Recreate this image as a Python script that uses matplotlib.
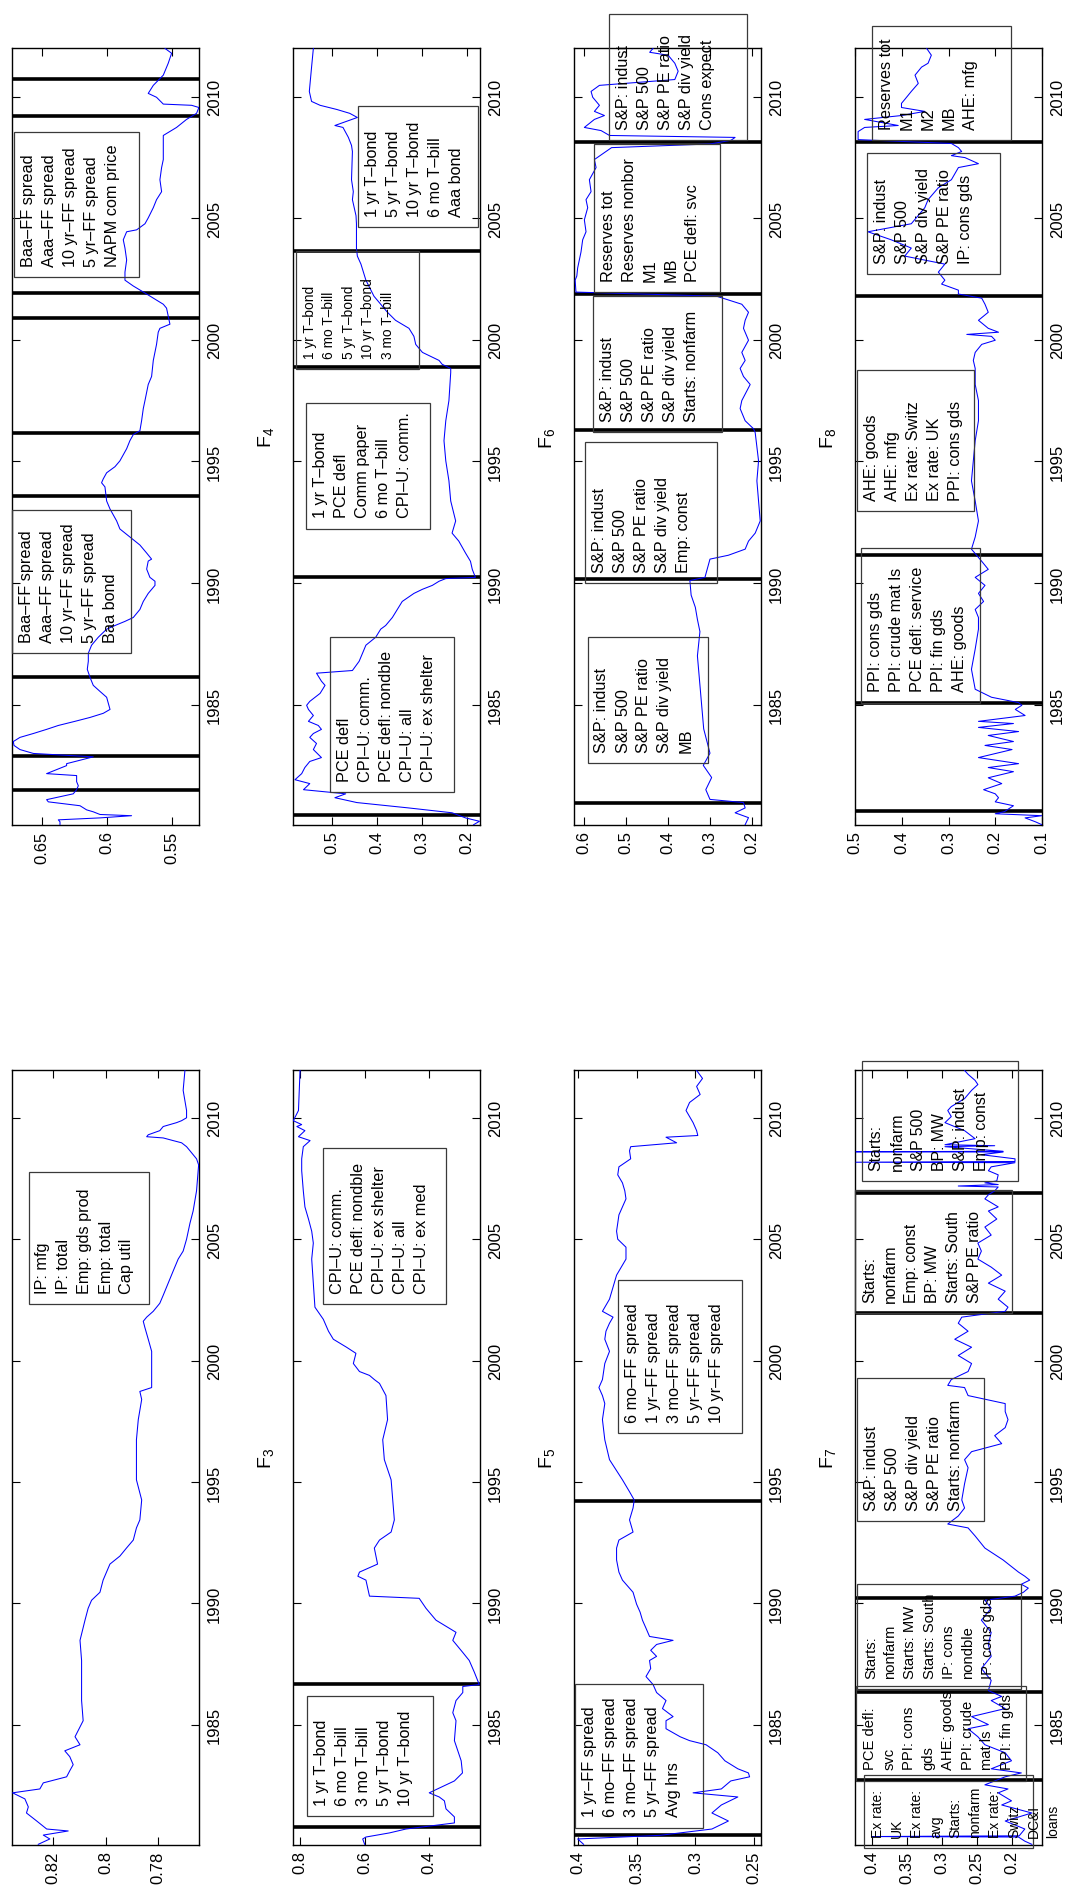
import matplotlib
matplotlib.use('Agg')
import matplotlib.pyplot as plt
from matplotlib.patches import Rectangle

plt.rcParams['font.family'] = ['Liberation Sans', 'DejaVu Sans']
plt.rcParams['mathtext.fontset'] = 'custom'
plt.rcParams['mathtext.rm'] = 'Liberation Sans'
plt.rcParams['mathtext.it'] = 'Liberation Sans'

W, H = 1067, 1890
fig = plt.figure(figsize=(W / 100, H / 100), dpi=100)

# ---------------- data (year, value) ----------------
t_f1 = [1980.08, 1980.30, 1980.46, 1980.63, 1980.71, 1981.04, 1981.37, 1981.62, 1981.95, 1982.20, 1982.36,
        1982.61, 1982.86, 1983.11, 1983.36, 1983.69, 1983.93, 1984.18, 1984.51, 1985.17, 1986.00, 1986.83,
        1987.65, 1988.48, 1989.31, 1989.80, 1990.13, 1990.46, 1990.96, 1991.29, 1991.62, 1991.95, 1992.28,
        1992.61, 1993.11, 1993.44, 1994.26, 1995.09, 1995.92, 1996.74, 1997.57, 1998.40, 1998.73, 1998.89,
        1999.22, 2000.05, 2000.38, 2000.88, 2001.37, 2001.62, 2001.79, 2002.03, 2002.36, 2002.69, 2003.19,
        2003.69, 2004.18, 2004.51, 2005.00, 2005.66, 2006.16, 2006.99, 2008.06, 2008.31, 2008.64, 2008.81,
        2008.97, 2009.06, 2009.17, 2009.22, 2009.30, 2009.47, 2009.64, 2009.80, 2009.88, 2010.00, 2010.30,
        2011.13, 2011.98]
v_f1 = [0.8257, 0.8213, 0.8238, 0.8143, 0.8225, 0.8263, 0.8302, 0.8295, 0.8308, 0.8355, 0.8251,
        0.8238, 0.8149, 0.8137, 0.8124, 0.8137, 0.8156, 0.8098, 0.8117, 0.8086, 0.8092, 0.8092,
        0.8092, 0.8098, 0.8079, 0.8067, 0.8054, 0.8022, 0.8010, 0.7997, 0.7984, 0.7946, 0.7921,
        0.7895, 0.7883, 0.7870, 0.7863, 0.7883, 0.7883, 0.7883, 0.7876, 0.7863, 0.7870, 0.7825,
        0.7825, 0.7825, 0.7825, 0.7838, 0.7851, 0.7857, 0.7844, 0.7819, 0.7794, 0.7781, 0.7762,
        0.7743, 0.7724, 0.7705, 0.7692, 0.7679, 0.7667, 0.7654, 0.7646, 0.7654, 0.7679, 0.7692,
        0.7711, 0.7743, 0.7781, 0.7844, 0.7838, 0.7794, 0.7781, 0.7730, 0.7711, 0.7692, 0.7692,
        0.7705, 0.7698]

t_f2 = [1980.06, 1980.18, 1980.26, 1980.34, 1980.43, 1980.48, 1980.59, 1980.67, 1980.84, 1981.00, 1981.09,
        1981.33, 1981.50, 1981.66, 1981.83, 1982.08, 1982.16, 1982.49, 1982.57, 1982.85, 1982.99, 1983.15,
        1983.32, 1983.48, 1983.65, 1983.81, 1983.98, 1984.14, 1984.31, 1984.47, 1984.64, 1984.80, 1985.05,
        1985.30, 1985.54, 1985.79, 1986.12, 1986.45, 1986.78, 1987.11, 1987.44, 1987.77, 1988.10, 1988.25,
        1988.42, 1988.58, 1988.91, 1989.24, 1989.57, 1989.90, 1990.07, 1990.23, 1990.57, 1990.90, 1990.98,
        1991.23, 1991.56, 1991.89, 1992.22, 1992.55, 1993.04, 1993.37, 1993.95, 1994.12, 1994.28, 1994.53,
        1994.78, 1995.02, 1995.52, 1995.85, 1996.10, 1996.26, 1996.67, 1997.17, 1997.50, 1998.16, 1998.49,
        1999.15, 1999.81, 2000.31, 2000.47, 2000.64, 2000.97, 2001.30, 2001.46, 2001.63, 2001.88, 2002.21,
        2002.45, 2002.78, 2003.28, 2003.77, 2004.11, 2004.44, 2004.52, 2004.77, 2005.01, 2005.43, 2005.76,
        2006.09, 2006.58, 2007.08, 2007.41, 2008.07, 2008.40, 2008.73, 2009.06, 2009.31, 2009.55, 2009.64,
        2009.69, 2009.97, 2010.13, 2010.46, 2010.88, 2011.37, 2011.78, 2011.98]
v_f2 = [0.6364, 0.6364, 0.6377, 0.6056, 0.5813, 0.6056, 0.6108, 0.6159, 0.6210, 0.6454, 0.6467,
        0.6262, 0.6236, 0.6223, 0.6236, 0.6236, 0.6467, 0.6313, 0.6313, 0.6108, 0.6569, 0.6672,
        0.6718, 0.6723, 0.6672, 0.6569, 0.6467, 0.6377, 0.6249, 0.6133, 0.6031, 0.5979, 0.5992,
        0.6005, 0.6056, 0.6108, 0.6133, 0.6154, 0.6146, 0.6146, 0.6121, 0.6069, 0.6005, 0.5941,
        0.5864, 0.5800, 0.5749, 0.5723, 0.5685, 0.5633, 0.5633, 0.5672, 0.5697, 0.5685, 0.5659,
        0.5697, 0.5749, 0.5826, 0.5903, 0.5928, 0.5979, 0.6005, 0.6018, 0.6044, 0.6031, 0.6005,
        0.5941, 0.5903, 0.5851, 0.5826, 0.5800, 0.5749, 0.5736, 0.5723, 0.5710, 0.5685, 0.5659,
        0.5646, 0.5621, 0.5608, 0.5595, 0.5518, 0.5531, 0.5544, 0.5569, 0.5621, 0.5697, 0.5800,
        0.5864, 0.5864, 0.5851, 0.5864, 0.5877, 0.5851, 0.5774, 0.5710, 0.5685, 0.5646, 0.5621,
        0.5582, 0.5595, 0.5582, 0.5569, 0.5569, 0.5569, 0.5467, 0.5390, 0.5313, 0.5295, 0.5351,
        0.5569, 0.5621, 0.5685, 0.5646, 0.5569, 0.5531, 0.5505, 0.5556]

t_f3 = [1980.08, 1980.30, 1980.38, 1980.55, 1980.71, 1980.96, 1981.21, 1981.54, 1981.87, 1982.03, 1982.20,
        1982.69, 1983.02, 1983.52, 1984.35, 1985.17, 1985.50, 1986.00, 1986.33, 1986.58, 1986.66, 1987.16,
        1987.65, 1987.98, 1988.48, 1988.81, 1989.31, 1989.80, 1990.21, 1990.30, 1990.96, 1991.12, 1991.29,
        1991.62, 1992.28, 1992.61, 1992.94, 1993.44, 1994.26, 1995.09, 1995.92, 1996.74, 1997.57, 1998.56,
        1999.06, 1999.22, 1999.39, 1999.55, 1999.88, 2000.30, 2000.55, 2000.88, 2001.21, 2001.70, 2002.20,
        2004.18, 2004.84, 2005.33, 2005.83, 2006.33, 2006.99, 2007.82, 2008.31, 2008.81, 2009.06, 2009.22,
        2009.47, 2009.64, 2009.72, 2009.88, 2010.30, 2011.98]
v_f3 = [0.600, 0.606, 0.596, 0.523, 0.472, 0.322, 0.322, 0.348, 0.353, 0.369, 0.400,
        0.322, 0.297, 0.301, 0.322, 0.317, 0.327, 0.317, 0.296, 0.296, 0.245, 0.260,
        0.276, 0.296, 0.327, 0.317, 0.379, 0.410, 0.431, 0.585, 0.596, 0.621, 0.616,
        0.560, 0.570, 0.554, 0.518, 0.508, 0.513, 0.518, 0.539, 0.544, 0.529, 0.534,
        0.554, 0.570, 0.585, 0.616, 0.635, 0.627, 0.656, 0.697, 0.712, 0.728, 0.754,
        0.764, 0.759, 0.764, 0.774, 0.785, 0.790, 0.795, 0.795, 0.790, 0.769, 0.805,
        0.785, 0.810, 0.795, 0.821, 0.805, 0.800]

t_f4 = [1980.06, 1980.20, 1980.34, 1980.55, 1980.75, 1980.97, 1981.17, 1981.33, 1981.50, 1981.75, 1981.91,
        1982.16, 1982.41, 1982.66, 1982.82, 1983.15, 1983.40, 1983.65, 1983.81, 1983.98, 1984.14, 1984.31,
        1984.55, 1984.80, 1984.97, 1985.13, 1985.46, 1985.79, 1985.96, 1986.29, 1986.40, 1986.78, 1987.44,
        1987.77, 1988.10, 1988.25, 1988.58, 1988.91, 1989.24, 1989.57, 1989.74, 1989.90, 1990.07, 1990.18,
        1990.23, 1990.56, 1990.89, 1991.23, 1991.72, 1992.05, 1992.55, 1993.37, 1994.20, 1995.02, 1995.85,
        1996.67, 1997.50, 1998.66, 1998.82, 1998.99, 1999.15, 1999.48, 1999.81, 2000.14, 2000.47, 2000.80,
        2001.13, 2001.46, 2001.79, 2002.45, 2003.11, 2003.44, 2003.77, 2004.77, 2005.10, 2005.76, 2006.09,
        2006.58, 2007.74, 2007.99, 2008.32, 2008.73, 2008.81, 2009.14, 2009.31, 2009.47, 2009.64, 2009.80,
        2010.21, 2011.21, 2011.98]
v_f4 = [0.185, 0.172, 0.203, 0.233, 0.330, 0.445, 0.494, 0.470, 0.564, 0.550, 0.583,
        0.568, 0.561, 0.550, 0.524, 0.542, 0.535, 0.550, 0.542, 0.524, 0.531, 0.553,
        0.542, 0.553, 0.557, 0.550, 0.527, 0.516, 0.524, 0.535, 0.455, 0.440, 0.425,
        0.403, 0.392, 0.381, 0.366, 0.355, 0.344, 0.318, 0.299, 0.277, 0.262, 0.247,
        0.181, 0.188, 0.192, 0.203, 0.218, 0.233, 0.225, 0.236, 0.240, 0.247, 0.251,
        0.247, 0.240, 0.236, 0.236, 0.255, 0.262, 0.299, 0.314, 0.318, 0.329, 0.359,
        0.377, 0.392, 0.407, 0.425, 0.436, 0.444, 0.446, 0.446, 0.447, 0.455, 0.453,
        0.457, 0.455, 0.457, 0.464, 0.476, 0.494, 0.444, 0.461, 0.490, 0.527, 0.546,
        0.551, 0.546, 0.542]

t_f5 = [1980.08, 1980.30, 1980.45, 1980.71, 1981.04, 1981.37, 1981.70, 1982.03, 1982.20, 1982.36, 1982.69,
        1982.86, 1983.02, 1983.19, 1983.52, 1983.85, 1984.18, 1984.35, 1984.51, 1984.84, 1985.17, 1985.34,
        1985.67, 1986.00, 1986.33, 1986.66, 1986.99, 1987.32, 1987.65, 1987.82, 1988.07, 1988.31, 1988.48,
        1988.64, 1988.98, 1989.31, 1989.64, 1989.97, 1990.46, 1990.96, 1991.29, 1991.79, 1992.28, 1992.61,
        1992.94, 1993.44, 1993.93, 1994.26, 1994.60, 1995.09, 1995.92, 1996.74, 1997.57, 1998.23, 1998.56,
        1998.89, 1999.22, 1999.88, 2000.38, 2000.88, 2001.21, 2001.54, 2001.79, 2002.03, 2002.53, 2003.52,
        2004.18, 2004.67, 2005.00, 2005.33, 2005.66, 2006.00, 2006.33, 2006.66, 2006.99, 2007.32, 2007.65,
        2007.98, 2008.31, 2008.64, 2008.81, 2008.97, 2009.20, 2009.27, 2009.47, 2009.80, 2010.05, 2010.30,
        2010.63, 2010.96, 2011.29, 2011.62, 2011.95]
v_f5 = [0.395, 0.400, 0.330, 0.286, 0.272, 0.286, 0.278, 0.264, 0.302, 0.278, 0.270,
        0.254, 0.255, 0.264, 0.275, 0.281, 0.291, 0.305, 0.313, 0.325, 0.325, 0.319,
        0.328, 0.325, 0.333, 0.336, 0.342, 0.338, 0.339, 0.333, 0.338, 0.333, 0.319,
        0.339, 0.342, 0.345, 0.347, 0.350, 0.353, 0.362, 0.365, 0.367, 0.367, 0.365,
        0.353, 0.356, 0.353, 0.352, 0.356, 0.362, 0.373, 0.377, 0.379, 0.377, 0.379,
        0.382, 0.379, 0.377, 0.373, 0.377, 0.376, 0.373, 0.370, 0.379, 0.373, 0.367,
        0.359, 0.359, 0.366, 0.367, 0.366, 0.365, 0.362, 0.359, 0.360, 0.362, 0.366,
        0.365, 0.355, 0.356, 0.355, 0.316, 0.325, 0.298, 0.299, 0.302, 0.305, 0.308,
        0.305, 0.296, 0.299, 0.294, 0.299]

t_f6 = [1980.06, 1980.35, 1980.55, 1980.75, 1980.97, 1981.10, 1981.50, 1982.00, 1982.50, 1983.00, 1984.00,
        1985.00, 1986.00, 1987.00, 1988.00, 1988.50, 1989.00, 1989.50, 1990.10, 1990.23, 1990.98, 1991.14,
        1991.39, 1991.72, 1992.05, 1992.55, 1993.37, 1994.20, 1995.02, 1996.18, 1996.34, 1996.67, 1997.17,
        1997.50, 1998.16, 1998.49, 1998.82, 1999.15, 1999.48, 1999.98, 2000.47, 2000.80, 2001.13, 2001.46,
        2001.79, 2001.96, 2002.45, 2002.62, 2002.95, 2003.28, 2003.61, 2004.11, 2004.44, 2004.93, 2005.43,
        2005.76, 2006.09, 2006.58, 2007.08, 2007.41, 2007.90, 2008.05, 2008.20, 2008.32, 2008.40, 2008.60,
        2008.73, 2009.06, 2009.22, 2009.39, 2009.64, 2009.97, 2010.21, 2010.46, 2010.70, 2011.04, 2011.37,
        2011.70, 2011.82, 2011.98]
v_f6 = [0.216, 0.208, 0.240, 0.216, 0.220, 0.300, 0.310, 0.296, 0.316, 0.300, 0.315,
        0.320, 0.325, 0.330, 0.324, 0.330, 0.335, 0.345, 0.348, 0.312, 0.300, 0.256,
        0.216, 0.208, 0.192, 0.180, 0.184, 0.188, 0.184, 0.192, 0.196, 0.216, 0.228,
        0.224, 0.204, 0.220, 0.228, 0.216, 0.224, 0.208, 0.220, 0.216, 0.208, 0.224,
        0.284, 0.620, 0.622, 0.618, 0.616, 0.612, 0.608, 0.604, 0.596, 0.600, 0.592,
        0.596, 0.584, 0.588, 0.572, 0.576, 0.535, 0.300, 0.250, 0.240, 0.540, 0.560,
        0.600, 0.576, 0.552, 0.576, 0.564, 0.580, 0.584, 0.564, 0.384, 0.376, 0.384,
        0.400, 0.444, 0.436]

t_f7 = [1980.08, 1980.21, 1980.38, 1980.40, 1980.43, 1980.71, 1981.04, 1981.37, 1981.70, 1981.87, 1982.20,
        1982.36, 1982.53, 1982.69, 1982.86, 1983.02, 1983.19, 1983.52, 1983.85, 1984.18, 1984.51, 1984.84,
        1985.01, 1985.34, 1985.67, 1986.00, 1986.17, 1986.41, 1986.83, 1987.32, 1987.82, 1988.31, 1988.81,
        1989.31, 1989.80, 1990.13, 1990.30, 1990.46, 1990.63, 1990.79, 1990.96, 1991.12, 1991.29, 1991.79,
        1992.28, 1992.78, 1993.11, 1993.27, 1993.60, 1993.93, 1994.26, 1994.93, 1995.59, 1995.92, 1996.25,
        1996.58, 1996.91, 1997.24, 1997.57, 1997.90, 1998.23, 1998.56, 1998.89, 1998.98, 1999.22, 1999.55,
        1999.88, 2000.21, 2000.55, 2000.88, 2001.21, 2001.54, 2001.79, 2002.03, 2002.20, 2002.53, 2002.86,
        2003.19, 2003.52, 2003.85, 2004.18, 2004.51, 2004.84, 2005.17, 2005.50, 2005.83, 2006.16, 2006.33,
        2006.66, 2006.83, 2006.99, 2007.15, 2007.19, 2007.25, 2007.32, 2007.40, 2007.65, 2007.82, 2007.98,
        2008.15, 2008.17, 2008.20, 2008.31, 2008.48, 2008.59, 2008.60, 2008.62, 2008.81, 2008.85, 2008.89,
        2009.14, 2009.47, 2009.80, 2010.05, 2010.30, 2010.46, 2010.79, 2011.13, 2011.37, 2011.54, 2011.79,
        2011.95]
v_f7 = [0.172, 0.182, 0.191, 0.401, 0.190, 0.182, 0.210, 0.172, 0.215, 0.201, 0.220,
        0.206, 0.239, 0.225, 0.210, 0.187, 0.230, 0.201, 0.210, 0.239, 0.249, 0.263,
        0.234, 0.258, 0.210, 0.230, 0.215, 0.234, 0.230, 0.244, 0.230, 0.234, 0.230,
        0.244, 0.230, 0.239, 0.196, 0.184, 0.177, 0.187, 0.175, 0.182, 0.191, 0.213,
        0.239, 0.253, 0.263, 0.292, 0.277, 0.268, 0.272, 0.268, 0.263, 0.268, 0.258,
        0.215, 0.225, 0.210, 0.206, 0.210, 0.210, 0.263, 0.268, 0.292, 0.287, 0.263,
        0.258, 0.277, 0.258, 0.282, 0.263, 0.277, 0.272, 0.210, 0.206, 0.220, 0.210,
        0.234, 0.215, 0.230, 0.249, 0.244, 0.249, 0.230, 0.239, 0.222, 0.234, 0.220,
        0.239, 0.234, 0.225, 0.220, 0.277, 0.220, 0.239, 0.222, 0.220, 0.234, 0.230,
        0.196, 0.423, 0.196, 0.196, 0.244, 0.213, 0.423, 0.213, 0.296, 0.225, 0.296,
        0.253, 0.268, 0.296, 0.287, 0.292, 0.287, 0.268, 0.258, 0.249, 0.253, 0.263,
        0.268]

t_f8 = [1980.06, 1980.18, 1980.34, 1980.43, 1980.51, 1980.60, 1980.84, 1981.00, 1981.17, 1981.33, 1981.50,
        1981.75, 1981.99, 1982.24, 1982.41, 1982.57, 1982.82, 1983.15, 1983.32, 1983.48, 1983.73, 1983.89,
        1984.06, 1984.22, 1984.31, 1984.55, 1984.80, 1984.97, 1985.08, 1985.30, 1985.63, 1986.45, 1987.28,
        1988.10, 1988.58, 1988.91, 1989.24, 1989.57, 1989.90, 1990.23, 1990.56, 1990.89, 1991.39, 1991.89,
        1992.55, 1993.37, 1994.20, 1995.02, 1995.85, 1996.67, 1997.50, 1998.16, 1998.82, 1999.15, 1999.48,
        1999.81, 1999.98, 2000.14, 2000.22, 2000.31, 2000.47, 2000.80, 2001.13, 2001.46, 2001.71, 2001.88,
        2002.04, 2002.29, 2002.45, 2002.78, 2003.11, 2003.44, 2003.77, 2004.11, 2004.44, 2004.77, 2005.43,
        2005.76, 2006.25, 2006.58, 2007.08, 2007.24, 2007.49, 2007.57, 2007.74, 2007.90, 2008.07, 2008.23,
        2008.56, 2008.73, 2008.81, 2009.06, 2009.22, 2009.39, 2009.55, 2009.72, 2009.88, 2010.21, 2010.54,
        2010.88, 2011.21, 2011.37, 2011.70, 2011.98]
v_f8 = [0.100, 0.114, 0.136, 0.100, 0.200, 0.180, 0.161, 0.200, 0.193, 0.200, 0.225,
        0.186, 0.215, 0.161, 0.215, 0.150, 0.236, 0.164, 0.222, 0.161, 0.215, 0.150,
        0.236, 0.161, 0.236, 0.136, 0.157, 0.143, 0.150, 0.208, 0.243, 0.251, 0.243,
        0.236, 0.236, 0.243, 0.225, 0.236, 0.222, 0.243, 0.215, 0.229, 0.251, 0.243,
        0.236, 0.243, 0.251, 0.247, 0.243, 0.236, 0.236, 0.243, 0.243, 0.247, 0.243,
        0.229, 0.200, 0.208, 0.261, 0.193, 0.215, 0.236, 0.215, 0.222, 0.229, 0.279,
        0.279, 0.315, 0.308, 0.322, 0.308, 0.394, 0.380, 0.423, 0.473, 0.380, 0.351,
        0.344, 0.322, 0.294, 0.279, 0.236, 0.265, 0.294, 0.272, 0.279, 0.294, 0.494,
        0.494, 0.480, 0.408, 0.480, 0.401, 0.351, 0.401, 0.401, 0.394, 0.380, 0.365,
        0.372, 0.358, 0.344, 0.337, 0.347]

breaks_f1 = []
breaks_f2 = [1981.47, 1982.88, 1986.12, 1993.57, 1996.15, 2000.88, 2001.91, 2009.22, 2010.71]
breaks_f3 = [1980.78, 1986.67]
breaks_f4 = [1980.47, 1990.24, 1998.87, 2003.66]
breaks_f5 = [1980.47, 1994.20]
breaks_f6 = [1980.97, 1990.18, 1996.30, 2001.87, 2008.15]
breaks_f7 = [1982.73, 1986.34, 1990.23, 2001.98, 2006.91]
breaks_f8 = [1980.64, 1985.08, 1991.14, 2001.79, 2008.15]

year_ticks = [1985, 1990, 1995, 2000, 2005, 2010]

# ---------------- layout (figure pixels) ----------------
col_left = [12.3, 293.3, 574.3, 855.3]
col_w = 186.6
row_top = [49.4, 1070.7]
row_h = [776.3, 775.1]
T0, T1 = 1980.06, 2011.98


def fx(x):
    return x / W


def fy(y):
    return 1 - y / H


panels = [
    dict(col=0, row=1, t=t_f1, v=v_f1, br=breaks_f1, lim=(0.8356, 0.7645), ticks=[0.78, 0.8, 0.82]),
    dict(col=0, row=0, t=t_f2, v=v_f2, br=breaks_f2, lim=(0.6731, 0.5295), ticks=[0.55, 0.6, 0.65]),
    dict(col=1, row=1, t=t_f3, v=v_f3, br=breaks_f3, lim=(0.821, 0.243), ticks=[0.4, 0.6, 0.8]),
    dict(col=1, row=0, t=t_f4, v=v_f4, br=breaks_f4, lim=(0.5867, 0.171), ticks=[0.2, 0.3, 0.4, 0.5]),
    dict(col=2, row=1, t=t_f5, v=v_f5, br=breaks_f5, lim=(0.4029, 0.2444), ticks=[0.25, 0.3, 0.35, 0.4]),
    dict(col=2, row=0, t=t_f6, v=v_f6, br=breaks_f6, lim=(0.624, 0.1784), ticks=[0.2, 0.3, 0.4, 0.5, 0.6]),
    dict(col=3, row=1, t=t_f7, v=v_f7, br=breaks_f7, lim=(0.424, 0.1576), ticks=[0.2, 0.25, 0.3, 0.35, 0.4]),
    dict(col=3, row=0, t=t_f8, v=v_f8, br=breaks_f8, lim=(0.5, 0.1), ticks=[0.1, 0.2, 0.3, 0.4, 0.5]),
]

for p in panels:
    L = col_left[p['col']]
    top = row_top[p['row']]
    h = row_h[p['row']]
    ax = fig.add_axes([fx(L), fy(top + h), col_w / W, h / H])
    for b in p['br']:
        ax.axhline(b, color='k', lw=2.6, zorder=2)
    ax.plot(p['v'], p['t'], color='#0000ff', lw=0.75, zorder=3)
    ax.set_xlim(*p['lim'])
    ax.set_ylim(T0, T1)
    ax.set_xticks(p['ticks'])
    ax.set_xticklabels(['%g' % tk for tk in p['ticks']])
    ax.set_yticks(year_ticks)
    ax.set_yticklabels([str(y) for y in year_ticks])
    ax.tick_params(axis='x', direction='in', bottom=True, top=True, length=6, width=0.8,
                   labelsize=12, labelrotation=90, pad=4)
    ax.tick_params(axis='y', direction='in', left=True, right=True, labelleft=False, labelright=True,
                   length=6, width=0.8, labelsize=12, labelrotation=90, pad=6)
    for lbl in ax.get_yticklabels():
        lbl.set_verticalalignment('center')
    for s in ax.spines.values():
        s.set_linewidth(1.0)

# ---------------- panel titles ----------------
titles = [('4', 266.5, 437), ('6', 547, 438), ('8', 828, 438),
          ('3', 266.5, 1458), ('5', 547, 1458), ('7', 828, 1458)]
for k, x, y in titles:
    fig.text(fx(x), fy(y), r'$\mathrm{F}_{%s}$' % k, rotation=90, ha='center', va='center', fontsize=14)

# ---------------- text boxes: (x_left, x_right, y_top, y_bottom, lines, fontsize) ----------------
boxes = [
    (14.3, 138.7, 132.6, 278, ['Baa\u2013FF spread', 'Aaa\u2013FF spread', '10 yr\u2013FF spread', '5 yr\u2013FF spread', 'NAPM com price'], 11.7),
    (12.3, 131, 511, 654, ['Baa\u2013FF spread', 'Aaa\u2013FF spread', '10 yr\u2013FF spread', '5 yr\u2013FF spread', 'Baa bond'], 11.7),
    (357.7, 478, 106.5, 227.8, ['1 yr T\u2013bond', '5 yr T\u2013bond', '10 yr T\u2013bond', '6 mo T\u2013bill', 'Aaa bond'], 11.7),
    (295.7, 419.3, 252, 370.4, ['1 yr T\u2013bond', '6 mo T\u2013bill', '5 yr T\u2013bond', '10 yr T\u2013bond', '3 mo T\u2013bill'], 9.9),
    (306, 430, 403.8, 529.5, ['1 yr T\u2013bond', 'PCE defl', 'Comm paper', '6 mo T\u2013bill', 'CPI\u2013U: comm.'], 11.7),
    (330, 454.3, 638, 792.7, ['PCE defl', 'CPI\u2013U: comm.', 'PCE defl: nondble', 'CPI\u2013U: all', 'CPI\u2013U: ex shelter'], 11.7),
    (609.3, 746.7, 14.9, 141.4, ['S&P: indust', 'S&P 500', 'S&P PE ratio', 'S&P div yield', 'Cons expect'], 11.7),
    (593.7, 720, 144.6, 293.3, ['Reserves tot', 'Reserves nonbor', 'M1', 'MB', 'PCE defl: svc'], 11.7),
    (592.7, 722, 296.5, 433.1, ['S&P: indust', 'S&P 500', 'S&P PE ratio', 'S&P div yield', 'Starts: nonfarm'], 11.7),
    (585.4, 716.5, 442.5, 583.8, ['S&P: indust', 'S&P 500', 'S&P PE ratio', 'S&P div yield', 'Emp: const'], 11.7),
    (587.5, 708.3, 637.5, 763.8, ['S&P: indust', 'S&P 500', 'S&P PE ratio', 'S&P div yield', 'MB'], 11.7),
    (871.7, 1011, 27.3, 141.4, ['Reserves tot', 'M1', 'M2', 'MB', 'AHE: mfg'], 11.7),
    (866.7, 1000, 153.9, 274.8, ['S&P: indust', 'S&P 500', 'S&P div yield', 'S&P PE ratio', 'IP: cons gds'], 11.7),
    (857, 974.3, 371.2, 512.2, ['AHE: goods', 'AHE: mfg', 'Ex rate: Switz', 'Ex rate: UK', 'PPI: cons gds'], 11.7),
    (861, 980.3, 549.2, 703.5, ['PPI: cons gds', 'PPI: crude mat ls', 'PCE defl: service', 'PPI: fin gds', 'AHE: goods'], 11.7),
    (28.5, 148.5, 1172.5, 1304.5, ['IP: mfg', 'IP: total', 'Emp: gds prod', 'Emp: total', 'Cap util'], 11.7),
    (322.7, 446.3, 1149, 1304.5, ['CPI\u2013U: comm.', 'PCE defl: nondble', 'CPI\u2013U: ex shelter', 'CPI\u2013U: all', 'CPI\u2013U: ex med'], 11.7),
    (307.3, 432.7, 1696.7, 1816.9, ['1 yr T\u2013bond', '6 mo T\u2013bill', '3 mo T\u2013bill', '5 yr T\u2013bond', '10 yr T\u2013bond'], 11.7),
    (618.2, 742, 1281.2, 1434.3, ['6 mo\u2013FF spread', '1 yr\u2013FF spread', '3 mo\u2013FF spread', '5 yr\u2013FF spread', '10 yr\u2013FF spread'], 11.7),
    (575, 702.7, 1685, 1828.5, ['1 yr\u2013FF spread', '6 mo\u2013FF spread', '3 mo\u2013FF spread', '5 yr\u2013FF spread', 'Avg hrs'], 11.7),
    (861.7, 1018.3, 1061.9, 1182.4, ['Starts:', 'nonfarm', 'S&P 500', 'BP: MW', 'S&P: indust', 'Emp: const'], 11.4),
    (855, 1011.5, 1190.5, 1314.2, ['Starts:', 'nonfarm', 'Emp: const', 'BP: MW', 'Starts: South', 'S&P PE ratio'], 11.4),
    (857, 984.3, 1379.3, 1522, ['S&P: indust', 'S&P 500', 'S&P div yield', 'S&P PE ratio', 'Starts: nonfarm'], 11.7),
    (857, 1021, 1585.4, 1690, ['Starts:', 'nonfarm', 'Starts: MW', 'Starts: South', 'IP: cons', 'nondble', 'IP: cons gds'], 10.6),
    (856, 1026, 1686.7, 1781.5, ['PCE defl:', 'svc', 'PPI: cons', 'gds', 'AHE: goods', 'PPI: crude', 'mat ls', 'PPI: fin gds'], 10.6),
    (863.7, 1032.7, 1775.5, 1848.6, ['Ex rate:', 'UK', 'Ex rate:', 'avg', 'Starts:', 'nonfarm', 'Ex rate:', 'Switz', 'DC&I', 'loans'], 10.0),
]

for x0, x1, y0, y1, lines, fs in boxes:
    fig.add_artist(Rectangle((fx(x0), fy(y1)), (x1 - x0) / W, (y1 - y0) / H, transform=fig.transFigure,
                             fill=False, ec='#3a3a3a', lw=0.9, zorder=5))
    fig.text(fx(x0 + 7), fy(y1 - 11), '\n'.join(lines), rotation=90, ha='left', va='bottom',
             fontsize=fs, linespacing=1.5, zorder=6)

fig.savefig('out.png', dpi=100)
